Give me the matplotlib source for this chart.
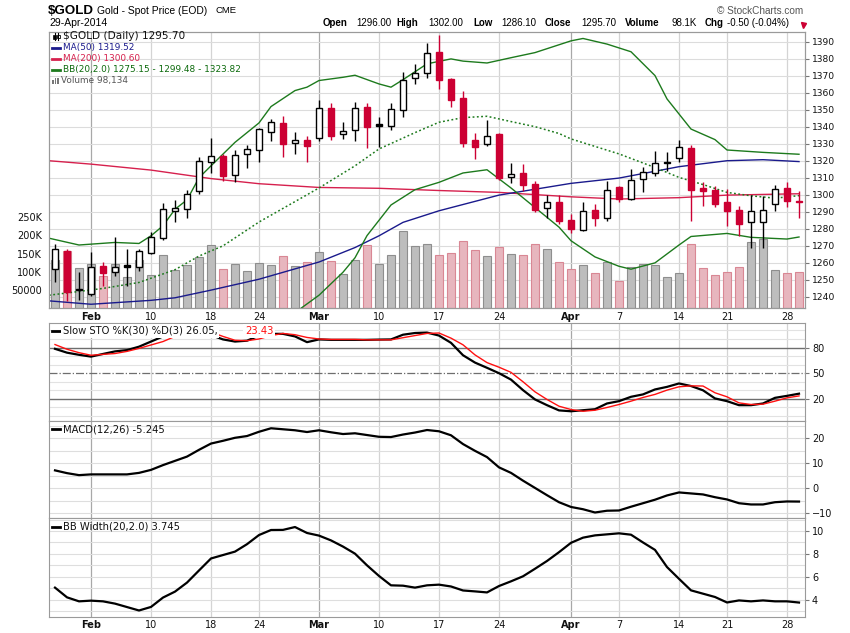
import numpy as np
import pandas as pd
import matplotlib
matplotlib.use('Agg')
import matplotlib.pyplot as plt
from matplotlib.transforms import blended_transform_factory as blend
from matplotlib.lines import Line2D
from matplotlib.patches import Rectangle

plt.rcParams['font.family'] = ['DejaVu Sans']

# trading days (Presidents Day and Good Friday closed)
days = pd.bdate_range('2014-01-29', '2014-04-29')
days = days[~days.isin(pd.to_datetime(['2014-02-17', '2014-04-18']))]

opens = [1256.3, 1267.2, 1244.2, 1242.0, 1258.0, 1254.4, 1259.0, 1257.6, 1265.7, 1274.4,
         1290.2, 1291.4, 1302.4, 1319.0, 1322.8, 1311.6, 1323.8, 1326.1, 1336.9, 1342.0,
         1330.2, 1332.2, 1333.4, 1350.8, 1335.5, 1338.0, 1351.4, 1341.5, 1340.2, 1349.6,
         1368.5, 1371.4, 1383.8, 1367.9, 1356.7, 1332.0, 1329.8, 1335.5, 1310.2, 1312.8,
         1306.1, 1292.5, 1295.5, 1284.9, 1279.6, 1291.0, 1286.5, 1304.5, 1297.5, 1309.0,
         1312.8, 1319.4, 1321.4, 1327.5, 1303.9, 1302.8, 1295.5, 1290.8, 1284.1, 1284.1,
         1294.3, 1303.8, 1296.0]
highs = [1271.0, 1268.0, 1254.7, 1266.1, 1260.8, 1275.0, 1268.0, 1268.0, 1277.9, 1295.1,
         1296.9, 1302.8, 1322.0, 1333.4, 1323.8, 1326.3, 1329.0, 1339.4, 1344.4, 1346.3,
         1336.9, 1334.5, 1355.7, 1353.9, 1342.8, 1354.5, 1353.9, 1345.5, 1353.9, 1372.4,
         1376.9, 1389.0, 1393.9, 1368.5, 1360.8, 1336.1, 1343.8, 1336.1, 1318.5, 1318.0,
         1307.9, 1299.7, 1299.6, 1288.5, 1295.5, 1294.4, 1308.0, 1305.1, 1315.1, 1316.3,
         1325.5, 1325.0, 1332.4, 1329.2, 1307.3, 1304.9, 1303.4, 1293.2, 1299.8, 1299.4,
         1305.7, 1307.3, 1302.0]
lows = [1248.5, 1237.8, 1238.2, 1240.6, 1246.5, 1252.4, 1246.5, 1255.3, 1265.1, 1273.5,
        1284.1, 1286.5, 1300.2, 1312.8, 1308.2, 1307.3, 1315.9, 1319.0, 1331.8, 1322.4,
        1324.1, 1319.4, 1331.4, 1332.0, 1332.8, 1331.8, 1327.3, 1327.9, 1338.2, 1345.9,
        1365.3, 1368.8, 1362.2, 1351.8, 1328.2, 1321.2, 1328.5, 1308.8, 1306.7, 1302.4,
        1290.0, 1286.6, 1282.9, 1277.6, 1278.8, 1281.8, 1284.7, 1295.9, 1297.0, 1301.4,
        1311.2, 1314.1, 1319.1, 1284.7, 1293.5, 1292.9, 1281.8, 1275.9, 1268.5, 1268.5,
        1290.6, 1292.6, 1286.1]
closes = [1268.1, 1242.9, 1244.5, 1257.3, 1253.9, 1257.3, 1257.8, 1267.0, 1275.0, 1291.6,
          1292.2, 1300.2, 1319.6, 1322.6, 1311.2, 1323.4, 1326.7, 1338.6, 1342.9, 1330.0,
          1332.2, 1328.8, 1350.8, 1334.7, 1337.3, 1350.8, 1340.0, 1340.3, 1350.2, 1367.6,
          1371.4, 1383.2, 1367.6, 1355.9, 1330.6, 1328.2, 1334.7, 1309.6, 1312.0, 1305.9,
          1291.3, 1295.6, 1284.7, 1280.0, 1290.2, 1286.5, 1302.6, 1297.5, 1308.6, 1313.2,
          1318.5, 1318.8, 1327.9, 1302.9, 1302.4, 1294.7, 1290.6, 1282.9, 1290.6, 1290.8,
          1303.6, 1296.2, 1295.7]
volume_k = [133, 158, 111, 122, 89.5, 121.6, 86, 131, 92, 147,
            106, 119.7, 141, 175, 108.7, 121.6, 103, 124, 119, 143.7,
            116, 128, 155.5, 130, 94, 133.5, 174.8, 121.6, 146.4, 212.5,
            171, 176.6, 146.4, 152, 185, 160, 142.6, 168.4, 149, 146.4,
            176.6, 163, 127, 108, 119, 97, 127, 75, 114, 122.5,
            119, 86, 97, 176.6, 110.6, 91, 99.6, 113.4, 182, 190,
            104, 97, 98.1]

# overlays (day index, value)
ma50_i = [-0.5, 3, 8, 10, 13, 17, 21, 22, 25, 27, 29, 32, 37, 43, 47, 52, 56, 59, 62]
ma50_v = [1237.7, 1235.7, 1238.0, 1239.5, 1244.0, 1250.4, 1258.5, 1260.5, 1269.0, 1275.9,
          1283.8, 1290.6, 1299.8, 1306.7, 1309.8, 1316.5, 1320.0, 1320.6, 1319.5]
ma200_i = [-0.5, 3, 8, 13, 17, 22, 27, 32, 37, 43, 47, 52, 56, 62]
ma200_v = [1320.0, 1318.0, 1314.5, 1309.5, 1306.5, 1304.3, 1303.8, 1302.5, 1301.4,
           1298.8, 1297.5, 1298.3, 1299.8, 1300.6]
bbu_i = [-0.5, 2, 5, 7, 8, 9, 10, 11, 12, 13, 15, 17, 18, 20, 21, 22, 24, 25, 27, 28, 29,
         31, 33, 34, 36, 38, 40, 43, 44, 46, 48, 50, 51, 53, 55, 56, 59, 62]
bbu_v = [1274.5, 1270.5, 1272.0, 1271.4, 1275.9, 1281.8, 1291.5, 1297.0, 1310.0, 1317.0,
         1330.8, 1342.2, 1351.8, 1361.2, 1363.2, 1367.1, 1369.0, 1370.2, 1365.1, 1363.2,
         1367.6, 1376.9, 1379.8, 1378.5, 1377.4, 1380.5, 1383.5, 1390.4, 1391.8, 1388.5,
         1384.0, 1370.0, 1356.3, 1338.6, 1332.4, 1326.3, 1324.9, 1323.8]
bbm_i = [-0.5, 4, 7, 10, 12, 14, 17, 20, 22, 25, 27, 30, 32, 34, 36, 38, 40, 42, 43, 47,
         50, 52, 54, 56, 58, 60, 62]
bbm_v = [1241.0, 1245.0, 1248.5, 1256.0, 1264.0, 1270.0, 1284.0, 1296.0, 1304.0, 1317.0,
         1326.9, 1336.5, 1342.6, 1345.3, 1346.1, 1343.0, 1340.0, 1336.0, 1332.8, 1324.0,
         1316.0, 1310.2, 1306.0, 1301.4, 1299.4, 1298.0, 1299.5]
bbl_i = [-0.5, 7, 10, 13, 17, 20, 22, 24, 25, 26, 27, 28, 29, 30, 32, 34, 36, 38, 40, 42,
         43, 45, 47, 48, 50, 52, 53, 56, 58, 61, 62]
bbl_v = [1207.5, 1225.6, 1220.0, 1217.0, 1225.8, 1230.8, 1241.0, 1254.5, 1263.0, 1276.0,
         1285.0, 1294.0, 1298.5, 1303.0, 1307.3, 1312.8, 1314.7, 1304.0, 1292.5, 1281.0,
         1273.0, 1263.5, 1258.0, 1256.3, 1260.0, 1270.5, 1275.5, 1277.3, 1275.0, 1274.0,
         1275.2]

sto_k = [78.5, 74, 71.5, 69.4, 72.5, 75.5, 77, 81, 87, 93,
         97, 99, 99, 94.5, 89.5, 87, 88, 94, 96, 96,
         93, 86.3, 89.5, 89, 89, 89, 89, 89.3, 89.5, 95,
         97, 97.5, 94, 85.5, 71, 62.4, 56.3, 50, 42.5, 30.2,
         19.3, 12.6, 6.5, 5.5, 6.7, 7.9, 14.6, 17.3, 22.4, 25.2,
         31, 34, 38, 35, 30, 20.5, 17.3, 12.6, 12.6, 14.6,
         21.2, 23.5, 26.05]
sto_d = [83.5, 78, 74, 71, 72, 73, 75.5, 79, 83, 87,
         93, 97, 99, 98, 93, 88.5, 88, 90, 94, 96.5,
         95, 91.8, 90, 89.5, 89.5, 89.5, 89, 89, 89, 91.5,
         94, 96.5, 97, 91, 83.2, 71.4, 62.4, 57, 51, 40,
         28.2, 19.3, 11.4, 7.5, 5.5, 6.7, 9.9, 13.4, 17.3, 21.6,
         25.2, 30.2, 34.1, 35.2, 35, 27.1, 22.4, 15.3, 13.4, 13.8,
         17.3, 21.2, 23.43]
macd = [7.2, 6.1, 5.3, 5.6, 5.6, 5.6, 5.6, 6.2, 7.4, 9.3,
        11, 12.7, 15.4, 17.9, 19, 20.2, 20.9, 22.6, 24, 23.6,
        23.2, 22.5, 23.2, 22.4, 21.7, 22, 21.3, 20.6, 20.5, 21.5,
        22.3, 23.3, 22.8, 21.2, 17.7, 15, 12.5, 8.4, 6.2, 3.1,
        0.2, -2.7, -5.5, -7.4, -8.3, -9.6, -8.9, -8.8, -7.3, -5.9,
        -4.5, -2.8, -1.6, -2, -2.4, -3.5, -4.4, -5.9, -6.4, -6.4,
        -5.5, -5.2, -5.245]
bbw = [5.05, 4.2, 3.85, 3.91, 3.85, 3.65, 3.35, 3.05, 3.36, 4.18,
       4.7, 5.49, 6.55, 7.6, 7.9, 8.2, 8.85, 9.65, 10.09, 10.1,
       10.35, 9.83, 9.6, 9.18, 8.64, 8.02, 7.0, 6.07, 5.25, 5.22,
       5.05, 5.25, 5.31, 5.15, 4.8, 4.72, 4.63, 5.19, 5.6, 6.04,
       6.7, 7.38, 8.15, 8.97, 9.42, 9.62, 9.71, 9.8, 9.68, 9.0,
       8.35, 6.85, 5.82, 4.81, 4.52, 4.23, 3.75, 3.93, 3.85, 3.93,
       3.85, 3.85, 3.745]

tick_days = ['2014-02-03', '2014-02-10', '2014-02-18', '2014-02-24', '2014-03-03',
             '2014-03-10', '2014-03-17', '2014-03-24', '2014-04-01', '2014-04-07',
             '2014-04-14', '2014-04-21', '2014-04-28']
month_days = ['2014-02-03', '2014-03-03', '2014-04-01']

x = np.arange(len(days))
o, h, l, c = map(np.array, (opens, highs, lows, closes))
prev = np.r_[o[0] - 1, c[:-1]]
down = c < prev
hollow = c >= o

W, H = 850, 633
def rect(x0, y0, x1, y1):
    return [x0 / W, 1 - y1 / H, (x1 - x0) / W, (y1 - y0) / H]

fig = plt.figure(figsize=(8.5, 6.33), dpi=100)
ax_v = fig.add_axes(rect(49, 32, 805, 308))
ax_p = ax_v.twinx()
ax_s = fig.add_axes(rect(49, 323, 805, 421))
ax_m = fig.add_axes(rect(49, 421, 805, 518))
ax_b = fig.add_axes(rect(49, 518, 805, 617))
axes = [ax_v, ax_s, ax_m, ax_b]

tick_pos = [days.get_loc(pd.Timestamp(d)) for d in tick_days]
month_pos = [days.get_loc(pd.Timestamp(d)) for d in month_days]

for ax in axes:
    ax.set_xlim(-0.5, 62.5)
    ax.set_xticks([])
    for p in tick_pos:
        ax.axvline(p, color='#a8a8a8' if p in month_pos else '#d4d4d4', lw=0.9, zorder=0)
for ax in axes + [ax_p]:
    for sp in ax.spines.values():
        sp.set_color('#9a9a9a')
        sp.set_linewidth(0.8)

# ---- price panel
ax_p.set_ylim(1233.5, 1395.6)
ax_v.set_ylim(0, 761)
tr = blend(ax_v.transAxes, ax_p.transData)
for p in range(1240, 1400, 10):
    ax_v.plot([0, 1], [p, p], transform=tr, color='#dcdcdc', lw=0.8, zorder=0)

ax_v.bar(x, volume_k, width=0.62,
         color=np.where(down, '#e7b6be', '#bdbdbd'),
         edgecolor=np.where(down, '#d98794', '#8e8e8e'), lw=0.8, zorder=2)
ax_v.set_yticks([50, 100, 150, 200, 250])
ax_v.set_yticklabels(['50000', '100K', '150K', '200K', '250K'])
ax_v.tick_params(axis='y', left=False, labelsize=7, pad=1.5, colors='#111')

green = '#1d7a1d'
ax_p.plot(ma200_i, ma200_v, color='#d6204d', lw=1.0, zorder=2)
ax_p.plot(ma50_i, ma50_v, color='#1a1a8c', lw=1.0, zorder=2)
ax_p.plot(bbu_i, bbu_v, color=green, lw=1.0, zorder=2)
ax_p.plot(bbl_i, bbl_v, color=green, lw=1.0, zorder=2)
ax_p.plot(bbm_i, bbm_v, color=green, lw=1.1, ls=(0, (1.2, 1.6)), zorder=2)

ccol = np.where(down, '#cc0033', '#000000')
ax_p.vlines(x, l, h, colors=ccol, lw=1.0, zorder=3)
body_lo = np.minimum(o, c)
body_h = np.maximum(np.abs(c - o), 0.7)
ax_p.bar(x, body_h, bottom=body_lo, width=0.56,
         color=np.where(hollow, 'white', ccol), edgecolor=ccol, lw=1.0, zorder=4)

ax_p.set_yticks(range(1240, 1391, 10))
ax_p.tick_params(axis='y', labelsize=6.6, length=3, pad=2, color='#777', labelcolor='#111')

# ---- slow stochastic
ax_s.set_ylim(-5.9, 108.7)
for v in range(0, 101, 10):
    if v not in (20, 50, 80):
        ax_s.axhline(v, color='#e2e2e2', lw=0.8, zorder=0)
ax_s.axhline(80, color='#6e6e6e', lw=1.0, zorder=1)
ax_s.axhline(20, color='#6e6e6e', lw=1.0, zorder=1)
ax_s.axhline(50, color='#6e6e6e', lw=0.9, ls='-.', zorder=1)
ax_s.plot(x, sto_k, color='black', lw=1.6, zorder=3)
ax_s.plot(x, sto_d, color='#ff1010', lw=1.0, zorder=4)
ax_s.yaxis.tick_right()
ax_s.set_yticks([20, 50, 80])

# ---- MACD
ax_m.set_ylim(-11.8, 26.9)
for v in range(-10, 26, 5):
    ax_m.axhline(v, color='#dedede', lw=0.8, zorder=0)
ax_m.plot(x, macd, color='black', lw=1.6, zorder=3)
ax_m.yaxis.tick_right()
ax_m.set_yticks([-10, 0, 10, 20])

# ---- BB width
ax_b.set_ylim(2.48, 11.14)
for v in range(3, 12):
    ax_b.axhline(v, color='#dedede', lw=0.8, zorder=0)
ax_b.plot(x, bbw, color='black', lw=1.6, zorder=3)
ax_b.yaxis.tick_right()
ax_b.set_yticks([4, 6, 8, 10])

for ax in (ax_s, ax_m, ax_b):
    ax.tick_params(axis='y', labelsize=7, length=3, pad=2, color='#777', labelcolor='#111')

# ---- date labels
for ax, ypx in ((ax_s, 316.5), (ax_b, 625)):
    t = blend(ax.transData, fig.transFigure)
    for p in tick_pos:
        d = days[p]
        if p in month_pos:
            ax.text(p, 1 - ypx / H, d.strftime('%b'), transform=t, ha='center', va='center',
                    fontsize=7, fontweight='bold', color='#111')
        else:
            ax.text(p, 1 - ypx / H, str(d.day), transform=t, ha='center', va='center',
                    fontsize=7, color='#111')

# ---- legends
def fy(ypx):
    return 1 - ypx / H

def key_line(ypx, color, lw=2.0):
    fig.add_artist(Line2D([52 / W, 60 / W], [fy(ypx), fy(ypx)], color=color, lw=lw))

# candle icon
fig.add_artist(Line2D([54.5 / W] * 2, [fy(40), fy(32.5)], color='black', lw=0.8))
fig.add_artist(Line2D([58.5 / W] * 2, [fy(40), fy(32.5)], color='black', lw=0.8))
fig.add_artist(Rectangle((53.3 / W, fy(38.5)), 2.4 / W, 4 / H, fc='black', ec='black', lw=0.5))
fig.add_artist(Rectangle((57.3 / W, fy(38)), 2.4 / W, 3.5 / H, fc='white', ec='black', lw=0.6))
fig.text(63 / W, fy(36), '$GOLD (Daily) 1295.70', fontsize=7.6, va='center', color='#111')
key_line(47.7, '#1a1a8c')
fig.text(63 / W, fy(47.7), 'MA(50) 1319.52', fontsize=6.4, va='center', color='#1a1a8c')
key_line(58.7, '#d6204d')
fig.text(63 / W, fy(58.7), 'MA(200) 1300.60', fontsize=6.4, va='center', color='#d6204d')
key_line(69.7, green)
fig.text(63 / W, fy(69.7), 'BB(20,2.0) 1275.15 - 1299.48 - 1323.82', fontsize=6.4,
         va='center', color='#0c6a0c')
for i, hh in enumerate([4, 6, 5]):
    fig.add_artist(Rectangle(((52 + 2.6 * i) / W, fy(83.5)), 1.8 / W, hh / H,
                             fc='#777', ec='none'))
fig.text(61 / W, fy(80), 'Volume 98,134', fontsize=6.4, va='center', color='#555')

box = dict(fc='white', ec='none', pad=1.2)
key_line(330.8, 'black')
fig.text(63 / W, fy(330.8), 'Slow STO %K(30) %D(3) 26.05,', fontsize=7.2, va='center',
         color='#111', bbox=box)
fig.text(245 / W, fy(330.8), '23.43', fontsize=7.2, va='center', color='#ff1010', bbox=box)
key_line(429.3, 'black')
fig.text(63 / W, fy(429.3), 'MACD(12,26) -5.245', fontsize=7.2, va='center', color='#111')
key_line(526.7, 'black')
fig.text(63 / W, fy(526.7), 'BB Width(20,2.0) 3.745', fontsize=7.2, va='center', color='#111')

# ---- header
lib = 'Liberation Sans'
fig.text(48 / W, fy(10.5), '$GOLD', fontsize=9.6, fontweight='bold', family=lib, va='center')
fig.text(97 / W, fy(10.5), 'Gold - Spot Price (EOD)', fontsize=7.4, family=lib, va='center')
fig.text(215 / W, fy(10.5), 'CME', fontsize=6.8, family=lib, va='center')
fig.text(49 / W, fy(23.5), '29-Apr-2014', fontsize=7.5, family=lib, va='center')
fig.text(717 / W, fy(10.5), '\u00a9 StockCharts.com', fontsize=7.2, family=lib,
         va='center', color='#555')
head_x = [323, 356, 396, 428, 473, 501, 545, 581, 625, 671, 705, 727]
head_t = ['Open', '1296.00', 'High', '1302.00', 'Low', '1286.10', 'Close', '1295.70',
          'Volume', '98.1K', 'Chg', '-0.50 (-0.04%)']
for i, (hx, ht) in enumerate(zip(head_x, head_t)):
    fig.text(hx / W, fy(23.5), ht, fontsize=7.0, family=lib, va='center',
             fontweight='bold' if i % 2 == 0 else 'normal')
fig.add_artist(Line2D([802.5 / W], [fy(24.5)], marker='v', ms=3.6, color='#cc0033', lw=0))

fig.savefig('out.png', dpi=100)
